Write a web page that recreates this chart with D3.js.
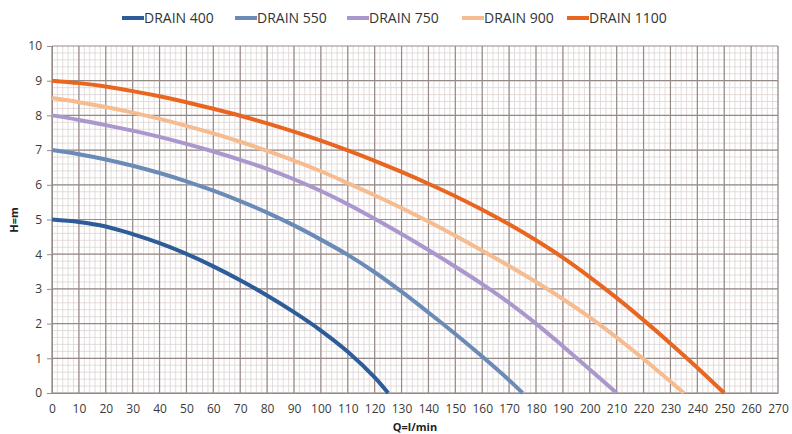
<!DOCTYPE html>
<html><head><meta charset="utf-8">
<script src="https://cdn.jsdelivr.net/npm/d3@7"></script>
<style>
html,body{margin:0;padding:0;background:#fff;}
svg{display:block;font-family:"Open Sans","Noto Sans",sans-serif;}
</style></head>
<body><svg id="c" width="792" height="434"></svg>
<script>
const seriesNames = ["DRAIN 400","DRAIN 550","DRAIN 750","DRAIN 900","DRAIN 1100"];
const seriesColors = ["#2d5c98","#6a8bb6","#a997cd","#f6bb8e","#e8661f"];
const q400  = [0,10,20,30,40,50,60,70,80,90,100,110,120,125];
const h400  = [5.0,4.93,4.80,4.58,4.32,4.01,3.65,3.25,2.81,2.33,1.80,1.19,0.45,0];
const q550  = [0,10,20,30,40,50,60,70,80,90,100,110,120,130,140,150,160,170,175];
const h550  = [7.0,6.88,6.73,6.55,6.34,6.10,5.83,5.53,5.20,4.83,4.42,3.98,3.48,2.92,2.32,1.70,1.05,0.37,0];
const q750  = [0,10,20,30,40,50,60,70,80,90,100,110,120,130,140,150,160,170,180,190,200,210];
const h750  = [8.0,7.87,7.72,7.56,7.38,7.18,6.96,6.72,6.46,6.16,5.82,5.44,5.02,4.58,4.12,3.64,3.14,2.60,2.00,1.35,0.68,0];
const q900  = [0,10,20,30,40,50,60,70,80,90,100,110,120,130,140,150,160,170,180,190,200,210,220,230,235];
const h900  = [8.5,8.38,8.24,8.08,7.90,7.70,7.48,7.24,6.98,6.70,6.39,6.05,5.70,5.33,4.94,4.53,4.10,3.66,3.20,2.71,2.18,1.60,0.98,0.33,0];
const q1100 = [0,10,20,30,40,50,60,70,80,90,100,110,120,130,140,150,160,170,180,190,200,210,220,230,240,250];
const h1100 = [9.0,8.93,8.83,8.70,8.55,8.38,8.19,7.99,7.77,7.53,7.27,6.99,6.69,6.37,6.03,5.67,5.28,4.86,4.40,3.90,3.34,2.74,2.10,1.43,0.73,0];
const xTicks = d3.range(0,271,10);
const yTicks = d3.range(0,11,1);
const xTitle = "Q=l/min";
const yTitle = "H=m";

const series = [[q400,h400],[q550,h550],[q750,h750],[q900,h900],[q1100,h1100]];

const svg = d3.select("#c");
const L = 52, R = 778, T = 46, B = 393;
const x = d3.scaleLinear().domain([0,270]).range([L,R]);
const y = d3.scaleLinear().domain([0,10]).range([B,T]);

const g = svg.append("g");
// minor grid
g.selectAll(".mx").data(d3.range(0,271,2)).join("line")
  .attr("x1",d=>x(d)).attr("x2",d=>x(d)).attr("y1",T).attr("y2",B)
  .attr("stroke","#ddd3d3").attr("stroke-width",0.8);
g.selectAll(".my").data(d3.range(0,50).map(i=>i*0.2)).join("line")
  .attr("y1",d=>y(d)).attr("y2",d=>y(d)).attr("x1",L).attr("x2",R)
  .attr("stroke","#ddd3d3").attr("stroke-width",0.8);
// major grid
g.selectAll(".Mx").data(xTicks).join("line")
  .attr("x1",d=>x(d)).attr("x2",d=>x(d)).attr("y1",T).attr("y2",B)
  .attr("stroke","#968a87").attr("stroke-width",1.2);
g.selectAll(".My").data(yTicks).join("line")
  .attr("y1",d=>y(d)).attr("y2",d=>y(d)).attr("x1",L).attr("x2",R)
  .attr("stroke","#968a87").attr("stroke-width",1.2);

// axes
const xa = svg.append("g").attr("transform",`translate(0,${B})`)
  .call(d3.axisBottom(x).tickValues(xTicks).tickSize(0).tickPadding(11));
const ya = svg.append("g").attr("transform",`translate(${L},0)`)
  .call(d3.axisLeft(y).tickValues(yTicks).tickSize(5).tickPadding(5));
[xa,ya].forEach(a=>{
  a.select(".domain").attr("stroke","#968a87");
  a.selectAll(".tick line").attr("stroke","#968a87");
  a.selectAll("text").attr("fill","#3a3a3a").style("font-size","12px")
   .style("font-family","'Open Sans','Noto Sans',sans-serif");
});

// lines
const line = d3.line().x(d=>x(d[0])).y(d=>y(d[1])).curve(d3.curveCatmullRom.alpha(0.5));
series.forEach((s,i)=>{
  const pts = s[0].map((q,j)=>[q,s[1][j]]);
  svg.append("path").datum(pts).attr("d",line).attr("fill","none")
    .attr("stroke",seriesColors[i]).attr("stroke-width",4).attr("stroke-linecap","butt");
});

// titles
svg.append("text").attr("x",415).attr("y",431).attr("text-anchor","middle")
  .style("font-size","11px").style("font-weight","bold").attr("fill","#222").text(xTitle);
svg.append("text").attr("transform","translate(18,220) rotate(-90)").attr("text-anchor","middle")
  .style("font-size","11px").style("font-weight","bold").attr("fill","#222").text(yTitle);

// legend
const legX = [122,235,347,462,567];
const lg = svg.append("g");
seriesNames.forEach((n,i)=>{
  lg.append("line").attr("x1",legX[i]).attr("x2",legX[i]+22).attr("y1",18).attr("y2",18)
    .attr("stroke",seriesColors[i]).attr("stroke-width",4);
  lg.append("text").attr("x",legX[i]+22).attr("y",23).style("font-size","14px")
    .attr("fill","#333").text(n);
});
</script></body></html>
